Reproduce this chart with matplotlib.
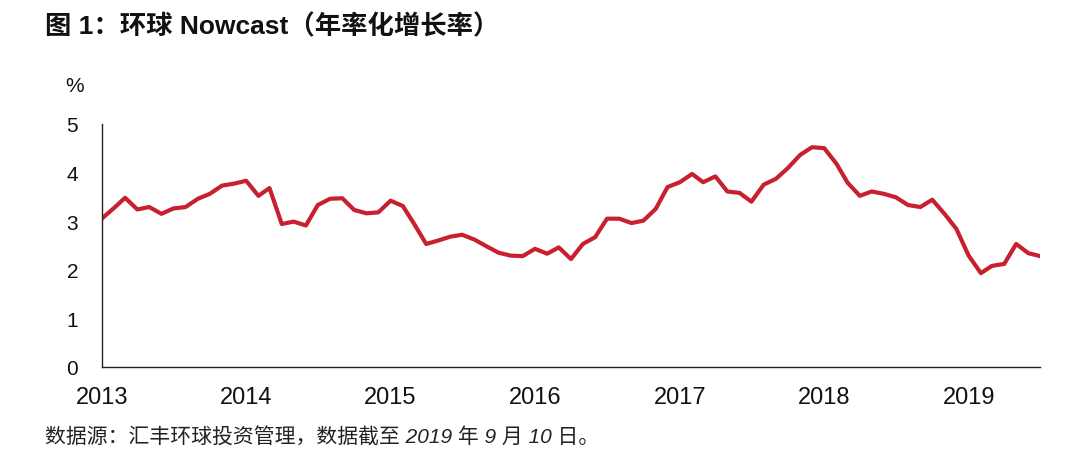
import matplotlib
matplotlib.use('Agg')
import matplotlib.pyplot as plt
import matplotlib.dates as mdates
import pandas as pd

plt.rcParams['font.family'] = ['Liberation Sans', 'Noto Sans CJK SC', 'DejaVu Sans']

# monthly Nowcast, Jan 2013 - Jul 2019 (%)
nowcast = [
    3.05, 3.27, 3.48, 3.24, 3.29, 3.15, 3.26, 3.29, 3.46, 3.56, 3.73, 3.77,
    3.83, 3.52, 3.68, 2.94, 2.99, 2.91, 3.33, 3.46, 3.47, 3.23, 3.16, 3.18,
    3.42, 3.31, 2.95, 2.53, 2.60, 2.68, 2.72, 2.62, 2.48, 2.35, 2.29, 2.28,
    2.43, 2.33, 2.46, 2.22, 2.53, 2.67, 3.05, 3.05, 2.96, 3.01, 3.25, 3.70,
    3.80, 3.97, 3.80, 3.92, 3.61, 3.58, 3.40, 3.75, 3.87, 4.09, 4.36, 4.52,
    4.50, 4.18, 3.79, 3.52, 3.61, 3.56, 3.49, 3.33, 3.29, 3.44, 3.15, 2.84,
    2.29, 1.93, 2.08, 2.12, 2.53, 2.34, 2.28,
]
months = pd.date_range('2013-01-01', periods=len(nowcast), freq='MS')
year_ticks = pd.date_range('2013-01-01', '2019-01-01', freq='YS')
y_ticks = [0, 1, 2, 3, 4, 5]

fig = plt.figure(figsize=(10.8, 4.64), dpi=100)
ax = fig.add_axes([0.0942, 0.2069, 0.869, 0.524])

ax.plot(months, nowcast, color='#C8202F', linewidth=3.0, solid_joinstyle='round')

ax.set_xlim(months[0], months[-1])
ax.set_ylim(0, 5)
ax.set_xticks(year_ticks)
ax.xaxis.set_major_formatter(mdates.DateFormatter('%Y'))
ax.set_yticks(y_ticks)

for side in ['top', 'right']:
    ax.spines[side].set_visible(False)
for side in ['left', 'bottom']:
    ax.spines[side].set_color('#222222')
    ax.spines[side].set_linewidth(1.0)

ax.tick_params(axis='x', length=0, labelsize=17, pad=14, colors='#111111')
ax.tick_params(axis='y', length=0, labelsize=15, pad=17, colors='#111111')

fig.text(65 / 1080, 1 - 87 / 464, '%', fontsize=15, color='#111111',
         va='center', ha='left')

fig.text(45 / 1080, 1 - 27 / 464, '图 1：环球 Nowcast（年率化增长率）',
         fontsize=19, fontweight='bold', color='#111111', va='center', ha='left')

fig.text(45 / 1080, 1 - 437 / 464, '数据源：汇丰环球投资管理，数据截至 2019 年 9 月 10 日。',
         fontsize=15, style='italic', color='#222222', va='center', ha='left')

fig.savefig('out.png', dpi=100)
